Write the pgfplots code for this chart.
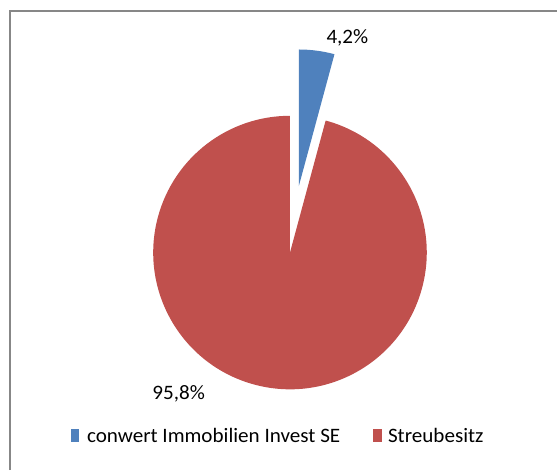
\documentclass[border=0pt]{standalone}
\usepackage{fontspec}
\setmainfont{Carlito}[FakeStretch=1.03]
\usepackage{pgfplots}
\pgfplotsset{compat=1.18}
\definecolor{pieblue}{HTML}{4F81BD}
\definecolor{piered}{HTML}{C0504D}
\definecolor{framegray}{HTML}{878787}

% shares (%)
\def\valA{4.2}   % conwert Immobilien Invest SE
\def\valB{95.8}  % Streubesitz

\begin{document}
\begin{tikzpicture}
\pgfmathsetmacro{\split}{90-\valA*3.6}
\pgfmathsetmacro{\stop}{\split-\valB*3.6}
\pgfmathsetmacro{\mid}{90-\valA*1.8}
\begin{axis}[
  width=558bp, height=471bp, scale only axis,
  xmin=0, xmax=558, ymin=0, ymax=471,
  axis lines=none, ticks=none, clip=false,
  font=\fontsize{20.6}{23}\selectfont,
]
% whole canvas
\path (axis cs:0,0) rectangle (axis cs:558,471);
% frame
\draw[framegray, line width=2bp] (axis cs:10.5,0) -- (axis cs:10.5,459.5) -- (axis cs:558,459.5);
% Streubesitz
\fill[piered] (axis cs:290.5,218) -- ++(\split:137bp)
  arc[start angle=\split, end angle=\stop, radius=137bp] -- cycle;
% conwert, pulled out
\fill[pieblue] (axis cs:290.5,218) ++(\mid:67bp) -- ++(90:137bp)
  arc[start angle=90, end angle=\split, radius=137bp] -- cycle;
% data labels
\node[anchor=base, inner sep=0pt] at (axis cs:348,427.7) {4,2\%};
\node[anchor=base, inner sep=0pt] at (axis cs:179,71) {95,8\%};
% legend
\fill[pieblue] (axis cs:71,28) rectangle (axis cs:79.5,41);
\node[anchor=base west, inner sep=0pt] at (axis cs:87,28) {conwert Immobilien Invest SE};
\fill[piered] (axis cs:374,28) rectangle (axis cs:383,41);
\node[anchor=base west, inner sep=0pt] at (axis cs:388.5,28) {Streubesitz};
\end{axis}
\end{tikzpicture}
\end{document}
